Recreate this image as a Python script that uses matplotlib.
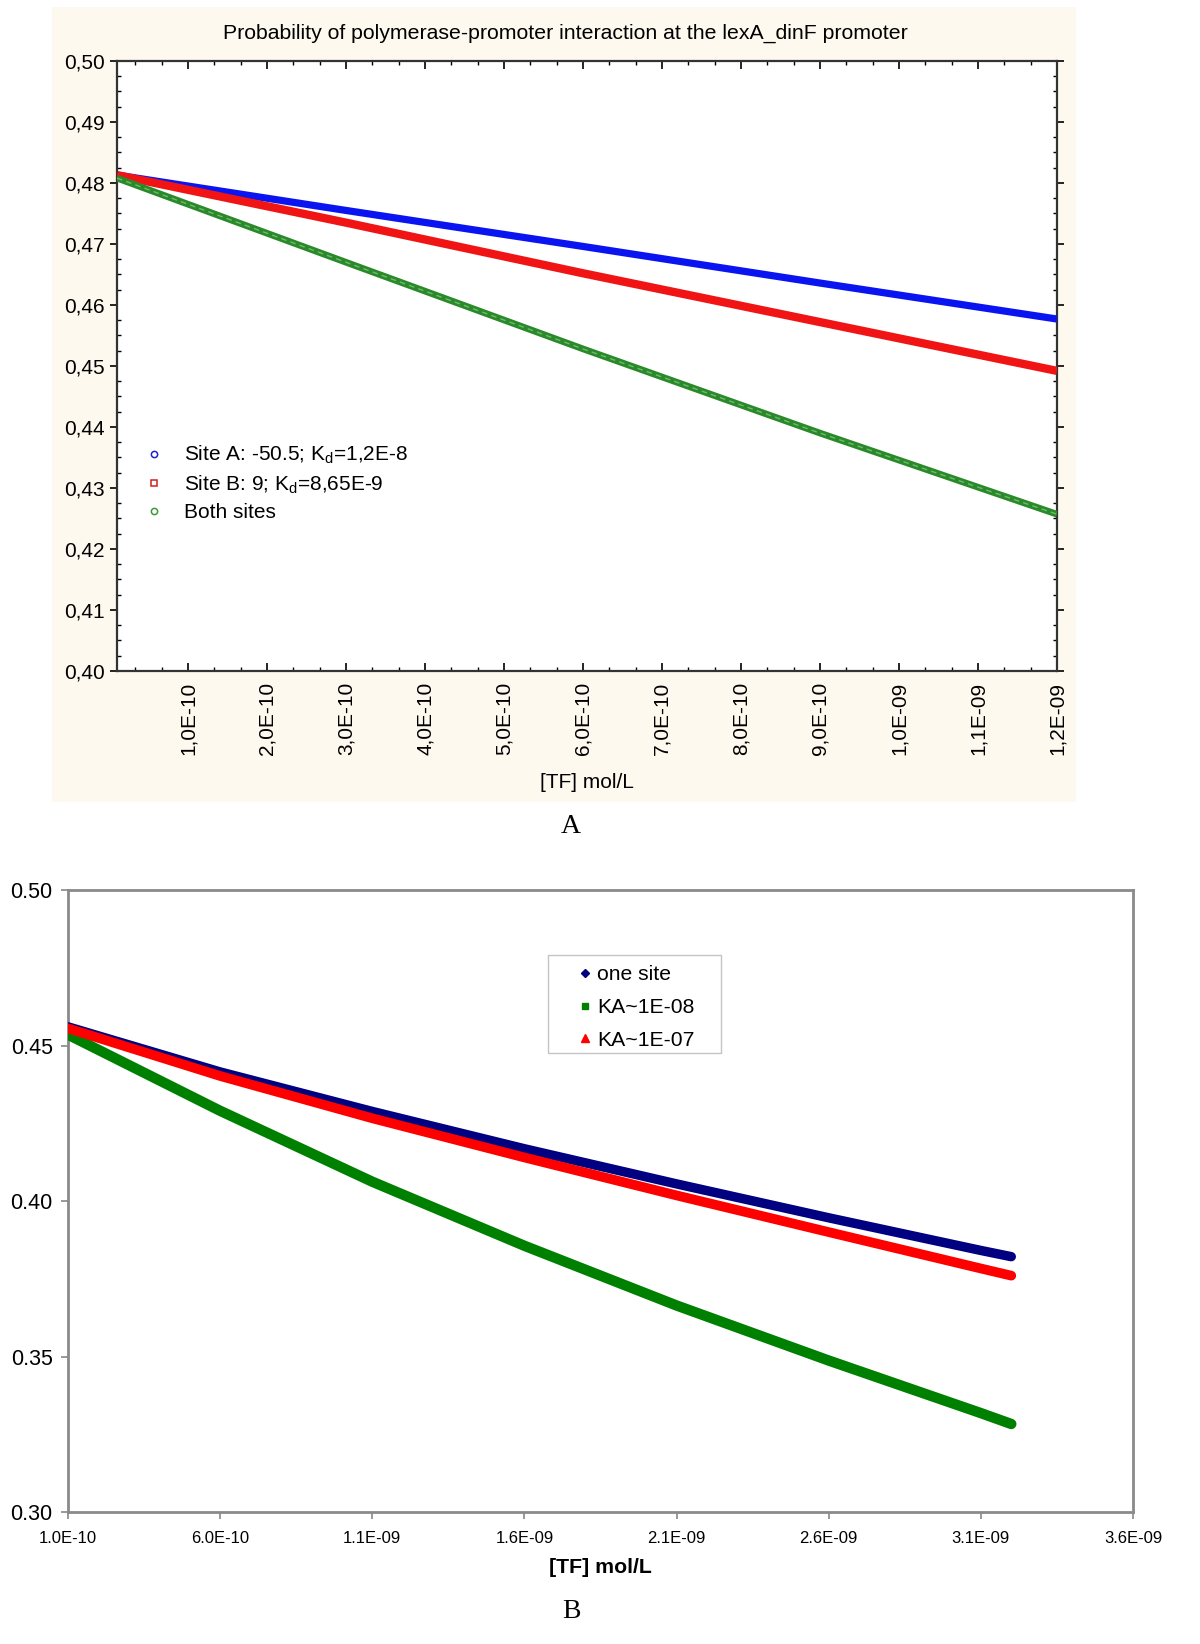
import matplotlib
matplotlib.use("Agg")
import matplotlib.pyplot as plt
from matplotlib.lines import Line2D
from matplotlib.patches import Rectangle
from matplotlib.ticker import FixedLocator, FuncFormatter, MultipleLocator

plt.rcParams['font.family'] = ['Liberation Sans', 'DejaVu Sans']
plt.rcParams['mathtext.fontset'] = 'custom'
plt.rcParams['mathtext.rm'] = 'Liberation Sans'
plt.rcParams['mathtext.it'] = 'Liberation Sans'

# ---------------- Panel A data ----------------
a_title = "Probability of polymerase-promoter interaction at the lexA_dinF promoter"
a_x = [1e-11, 3e-10, 6e-10, 9e-10, 1.2e-9]
a_site_a = [0.4813, 0.4755, 0.4696, 0.4636, 0.4577]
a_site_b = [0.4813, 0.4735, 0.4652, 0.4572, 0.4492]
a_both = [0.4808, 0.4670, 0.4528, 0.4390, 0.4257]
a_labels = ["Site A: -50.5; K$_\\mathregular{d}$=1,2E-8",
            "Site B: 9; K$_\\mathregular{d}$=8,65E-9",
            "Both sites"]
a_xticks = [1e-10, 2e-10, 3e-10, 4e-10, 5e-10, 6e-10, 7e-10, 8e-10, 9e-10,
            1.0e-9, 1.1e-9, 1.2e-9]
a_yticks = [0.40, 0.41, 0.42, 0.43, 0.44, 0.45, 0.46, 0.47, 0.48, 0.49, 0.50]

# ---------------- Panel B data ----------------
b_x = [1e-10, 6e-10, 1.1e-9, 1.6e-9, 2.1e-9, 2.6e-9, 3.1e-9, 3.2e-9]
b_one_site = [0.4560, 0.4415, 0.4288, 0.4168, 0.4055, 0.3946, 0.3841, 0.3821]
b_ka_1e08 = [0.4535, 0.4290, 0.4062, 0.3856, 0.3664, 0.3487, 0.3318, 0.3283]
b_ka_1e07 = [0.4555, 0.4402, 0.4266, 0.4140, 0.4018, 0.3900, 0.3783, 0.3760]
b_labels = ["one site", "KA~1E-08", "KA~1E-07"]
b_xticks = [1.0e-10, 6.0e-10, 1.1e-9, 1.6e-9, 2.1e-9, 2.6e-9, 3.1e-9, 3.6e-9]
b_yticks = [0.30, 0.35, 0.40, 0.45, 0.50]

W, H = 1200, 1644
fig = plt.figure(figsize=(W / 100, H / 100), dpi=100)
fig.patch.set_facecolor('white')

def fx(px):
    return px / W

def fy(py):
    return 1 - py / H

# beige panel background
fig.patches.append(Rectangle((fx(52), fy(802)), fx(1076) - fx(52), fy(7) - fy(802),
                             transform=fig.transFigure, facecolor='#fdf9ee',
                             edgecolor='none', zorder=-5))

# ---------------- Panel A ----------------
axA = fig.add_axes([fx(117), fy(671), fx(1057) - fx(117), fy(61) - fy(671)])
axA.set_zorder(2)
axA.set_facecolor('white')
axA.plot(a_x, a_site_a, color='#0a14f0', lw=5.2, solid_capstyle='butt', zorder=3)
axA.plot(a_x, a_site_b, color='#f01414', lw=6.0, solid_capstyle='butt', zorder=3)
axA.plot(a_x, a_both, color='#2a8a2a', lw=4.8, solid_capstyle='butt', zorder=3)
axA.plot(a_x, a_both, color='#6fb86f', lw=1.0, ls=(0, (4, 3)), zorder=4)
axA.set_xlim(1e-11, 1.2e-9)
axA.set_ylim(0.40, 0.50)
axA.xaxis.set_major_locator(FixedLocator(a_xticks))
axA.xaxis.set_major_formatter(FuncFormatter(lambda v, p: f"{v:.1E}".replace('.', ',')))
axA.xaxis.set_minor_locator(MultipleLocator(1e-10 / 3))
axA.yaxis.set_major_locator(FixedLocator(a_yticks))
axA.yaxis.set_major_formatter(FuncFormatter(lambda v, p: f"{v:.2f}".replace('.', ',')))
axA.yaxis.set_minor_locator(MultipleLocator(0.0025))
axA.tick_params(axis='x', which='major', labelrotation=90, labelsize=15,
                direction='in', length=6, width=1.2, top=True, pad=8)
axA.tick_params(axis='y', which='major', labelsize=15, direction='out',
                length=5, width=1.2, right=True, pad=4)
axA.tick_params(which='minor', direction='in', length=3, width=1, top=True, right=True)
for s in axA.spines.values():
    s.set_color('#333333')
    s.set_linewidth(1.6)
axA.set_xlabel("[TF] mol/L", fontsize=15, labelpad=13)
fig.text(fx(565), fy(33), a_title, ha='center', va='center', fontsize=15.3)

handlesA = [
    Line2D([], [], ls='none', marker='o', ms=4.5, mfc='none', mec='#2020d0', mew=1.1),
    Line2D([], [], ls='none', marker='s', ms=4.5, mfc='none', mec='#d02020', mew=1.1),
    Line2D([], [], ls='none', marker='o', ms=4.5, mfc='none', mec='#3a9a3a', mew=1.1),
]
axA.legend(handlesA, a_labels, loc='upper left', bbox_to_anchor=(fx(146), fy(444)),
           bbox_transform=fig.transFigure, frameon=False, fontsize=15,
           handlelength=0.8, handletextpad=1.0, borderpad=0, borderaxespad=0,
           labelspacing=0.35)

fig.text(fx(571), fy(826), "A", ha='center', va='center', fontsize=20,
         family=['Liberation Serif', 'DejaVu Serif'])

# ---------------- Panel B ----------------
axB = fig.add_axes([fx(68), fy(1512), fx(1133) - fx(68), fy(890) - fy(1512)])
axB.plot(b_x, b_one_site, color='#000080', lw=6.8, solid_capstyle='round', zorder=3)
axB.plot(b_x, b_ka_1e08, color='#008000', lw=7.5, solid_capstyle='round', zorder=3)
axB.plot(b_x, b_ka_1e07, color='#ff0000', lw=7.0, solid_capstyle='round', zorder=4)
axB.set_xlim(1e-10, 3.6e-9)
axB.set_ylim(0.30, 0.50)
axB.xaxis.set_major_locator(FixedLocator(b_xticks))
axB.xaxis.set_major_formatter(FuncFormatter(lambda v, p: f"{v:.1E}"))
axB.yaxis.set_major_locator(FixedLocator(b_yticks))
axB.yaxis.set_major_formatter(FuncFormatter(lambda v, p: f"{v:.2f}"))
axB.tick_params(axis='x', labelsize=12, direction='out', length=5, width=1.2,
                color='#888888', pad=9)
axB.tick_params(axis='y', labelsize=15.5, direction='out', length=5, width=1.2,
                color='#888888', pad=6)
for s in axB.spines.values():
    s.set_color('#8a8a8a')
    s.set_linewidth(2.0)
axB.set_xlabel("[TF] mol/L", fontsize=15.3, fontweight='bold', labelpad=8)

# legend box (drawn inside panel B, under the legend entries)
boxB = Rectangle((fx(548), fy(1053)), fx(721) - fx(548), fy(955) - fy(1053),
                 transform=fig.transFigure, facecolor='white',
                 edgecolor='#c4c4c4', lw=1.0, zorder=5, clip_on=False)
axB.add_patch(boxB)
handlesB = [
    Line2D([], [], ls='none', marker='D', ms=4.5, color='#000080'),
    Line2D([], [], ls='none', marker='s', ms=5, color='#008000'),
    Line2D([], [], ls='none', marker='^', ms=5.5, color='#ff0000'),
]
legB = axB.legend(handlesB, b_labels, loc='upper left', bbox_to_anchor=(fx(578), fy(965)),
                  bbox_transform=fig.transFigure, fontsize=15.2, frameon=False,
                  handlelength=0.7, handletextpad=0.2, borderpad=0, borderaxespad=0,
                  labelspacing=0.66)
legB.set_zorder(7)

fig.text(fx(571), fy(1611), "B", ha='center', va='center', fontsize=20,
         family=['Liberation Serif', 'DejaVu Serif'])

fig.savefig("out.png", dpi=100)
